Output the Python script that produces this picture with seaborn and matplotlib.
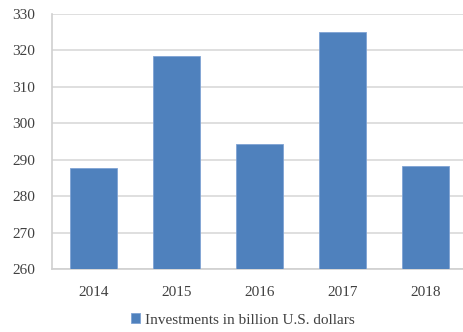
import pandas as pd
import seaborn as sns
import matplotlib.pyplot as plt

years = ["2014", "2015", "2016", "2017", "2018"]
investments = [287.8, 318.5, 294.2, 325.0, 288.4]
series_name = "Investments in billion U.S. dollars"

df = pd.DataFrame({"year": years, "value": investments})

sns.set_style("white")
plt.rcParams['font.family'] = ['Liberation Serif', 'DejaVu Serif']

fig = plt.figure(figsize=(4.64, 3.32), dpi=100)
ax = fig.add_axes([52 / 464, 1 - 269 / 332, 415 / 464, 255 / 332])

sns.barplot(x="year", y="value", data=df, color="#4f81bd", saturation=1,
            width=0.566, edgecolor="#7fa3d4", linewidth=0.6, ax=ax,
            label=series_name, zorder=3)

ax.set_ylim(260, 330)
ax.set_yticks(range(260, 331, 10))
ax.yaxis.grid(True, color="#d9d9d9", linewidth=1.2, zorder=0)
ax.set_axisbelow(True)
ax.set_xlabel("")
ax.set_ylabel("")
for side in ["top", "right"]:
    ax.spines[side].set_visible(False)
for side in ["left", "bottom"]:
    ax.spines[side].set_color("#d0d0d0")
    ax.spines[side].set_linewidth(1.2)
ax.tick_params(axis="both", length=0, labelsize=11, labelcolor="#404040")
ax.tick_params(axis="y", pad=12)
ax.tick_params(axis="x", pad=12)

ax.legend(loc="center", bbox_to_anchor=(243 / 464, 12 / 332),
          bbox_transform=fig.transFigure, frameon=False, fontsize=11,
          handlelength=0.6, handleheight=0.6, handletextpad=0.3,
          labelcolor="#404040")

fig.savefig("out.png", dpi=100)
